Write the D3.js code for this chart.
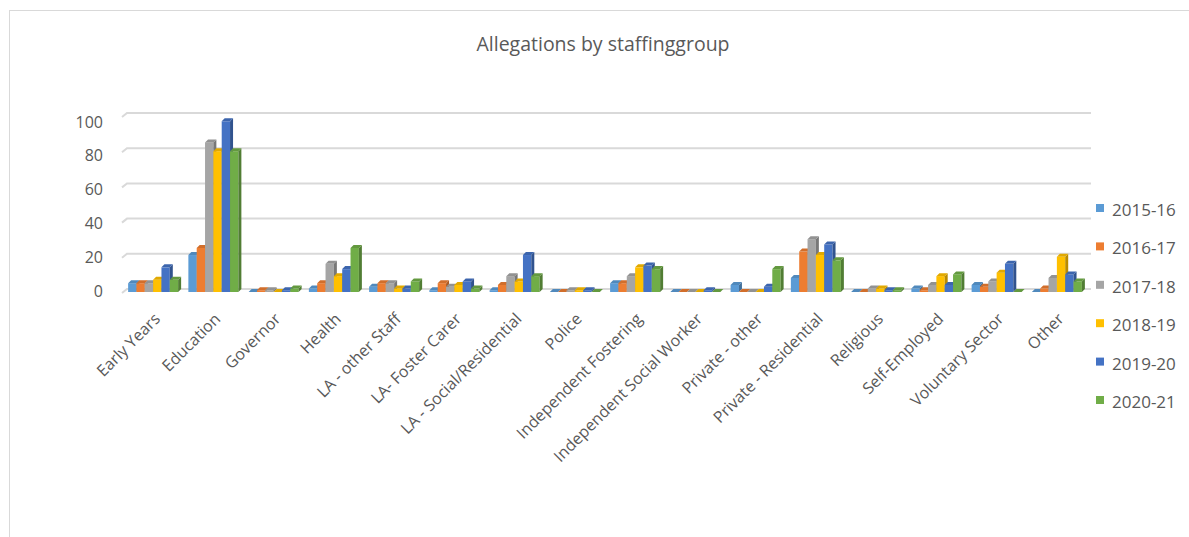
<!DOCTYPE html>
<html>
<head>
<meta charset="utf-8">
<script src="https://cdn.jsdelivr.net/npm/d3@7"></script>
<style>
  html, body { margin: 0; padding: 0; background: #fff; }
  svg { display: block; font-family: "Open Sans", "Noto Sans", sans-serif; }
</style>
</head>
<body>
<svg id="chart" width="1189" height="537"></svg>
<script>
const categories = ["Early Years", "Education", "Governor", "Health", "LA - other Staff", "LA- Foster Carer",
  "LA - Social/Residential", "Police", "Independent Fostering", "Independent Social Worker",
  "Private - other", "Private - Residential", "Religious", "Self-Employed", "Voluntary Sector", "Other"];
const years = ["2015-16", "2016-17", "2017-18", "2018-19", "2019-20", "2020-21"];
const s2015_16 = [5, 21, 0, 2, 3, 1, 1, 0, 5, 0, 4, 8, 0, 2, 4, 0];
const s2016_17 = [5, 25, 1, 5, 5, 5, 4, 0, 5, 0, 0, 23, 0, 1, 3, 2];
const s2017_18 = [5, 85, 1, 16, 5, 3, 9, 1, 9, 0, 0, 30, 2, 4, 6, 8];
const s2018_19 = [7, 80, 0, 9, 2, 4, 6, 1, 14, 0, 0, 21, 2, 9, 11, 20];
const s2019_20 = [14, 97, 1, 13, 2, 6, 21, 1, 15, 1, 3, 27, 1, 4, 16, 10];
const s2020_21 = [7, 80, 2, 25, 6, 2, 9, 0, 13, 0, 13, 18, 1, 10, 0, 6];
const yTicks = [0, 20, 40, 60, 80, 100];
const title = "Allegations by staffinggroup";

const seriesValues = [s2015_16, s2016_17, s2017_18, s2018_19, s2019_20, s2020_21];
const colors = ["#5B9BD5", "#ED7D31", "#A5A5A5", "#FFC000", "#4472C4", "#70AD47"];

const svg = d3.select("#chart");

// outer frame
svg.append("rect").attr("x", 9.5).attr("y", 10.5).attr("width", 1200).attr("height", 600)
  .attr("fill", "none").attr("stroke", "#d9d9d9").attr("stroke-width", 1);

// title
svg.append("text").attr("x", 603).attr("y", 51).attr("text-anchor", "middle")
  .attr("font-size", 19.5).attr("fill", "#595959").text(title);

const depth = 3;
const yGrid = d3.scaleLinear().domain([0, 100]).range([289, 113]);
const yLabel = d3.scaleLinear().domain([0, 100]).range([291, 122]);
const x0 = d3.scaleBand().domain(categories).range([123, 1087]).paddingInner(0.17).paddingOuter(0.085);
const x1 = d3.scaleBand().domain(years).range([0, x0.bandwidth()]);

// gridlines (back wall) with small side-wall slant
const grid = svg.append("g");
yTicks.forEach(t => {
  const y = yGrid(t);
  grid.append("path")
    .attr("d", `M122,${y + 4}L127,${y}L1091,${y}`)
    .attr("fill", "none").attr("stroke", "#d9d9d9").attr("stroke-width", 2);
});

// y axis labels
const yAxis = svg.append("g").attr("transform", "translate(103,0)")
  .call(d3.axisLeft(yLabel).tickValues(yTicks).tickSize(0).tickPadding(0));
yAxis.select(".domain").remove();
yAxis.selectAll("text").attr("font-size", 16).attr("fill", "#595959")
  .attr("font-family", "'Open Sans', sans-serif");

// bars (3D look)
const bars = svg.append("g");
categories.forEach((cat, ci) => {
  years.forEach((yr, si) => {
    const v = seriesValues[si][ci];
    const w = x1.bandwidth();
    const xl = x0(cat) + x1(yr);
    const xr = xl + w;
    const yt = yGrid(v) + depth;
    const yb = yGrid(0) + depth;
    const c = d3.color(colors[si]);
    const g = bars.append("g");
    // front
    g.append("rect").attr("x", xl).attr("y", yt).attr("width", w).attr("height", Math.max(0, yb - yt))
      .attr("fill", colors[si]);
    // right side
    g.append("path")
      .attr("d", `M${xr},${yt}L${xr + depth},${yt - depth}L${xr + depth},${yb - depth}L${xr},${yb}Z`)
      .attr("fill", c.darker(0.9).formatHex());
    // top
    g.append("path")
      .attr("d", `M${xl},${yt}L${xl + depth},${yt - depth}L${xr + depth},${yt - depth}L${xr},${yt}Z`)
      .attr("fill", c.darker(0.35).formatHex());
  });
});

// category labels
const xAxis = svg.append("g").attr("transform", "translate(0,300)")
  .call(d3.axisBottom(x0).tickSize(0).tickPadding(0));
xAxis.select(".domain").remove();
xAxis.selectAll("text")
  .attr("font-size", 16).attr("fill", "#595959").attr("font-family", "'Open Sans', sans-serif")
  .attr("text-anchor", "end")
  .attr("dy", "0.35em")
  .attr("transform", "translate(4,16) rotate(-45)");

// legend
const legend = svg.append("g");
years.forEach((yr, i) => {
  const y = 210 + i * 38.4;
  legend.append("rect").attr("x", 1096).attr("y", y - 6).attr("width", 8).attr("height", 8).attr("fill", colors[i]);
  legend.append("text").attr("x", 1112).attr("y", y).attr("dy", "0.35em")
    .attr("font-size", 17).attr("fill", "#595959").text(yr);
});
</script>
</body>
</html>
